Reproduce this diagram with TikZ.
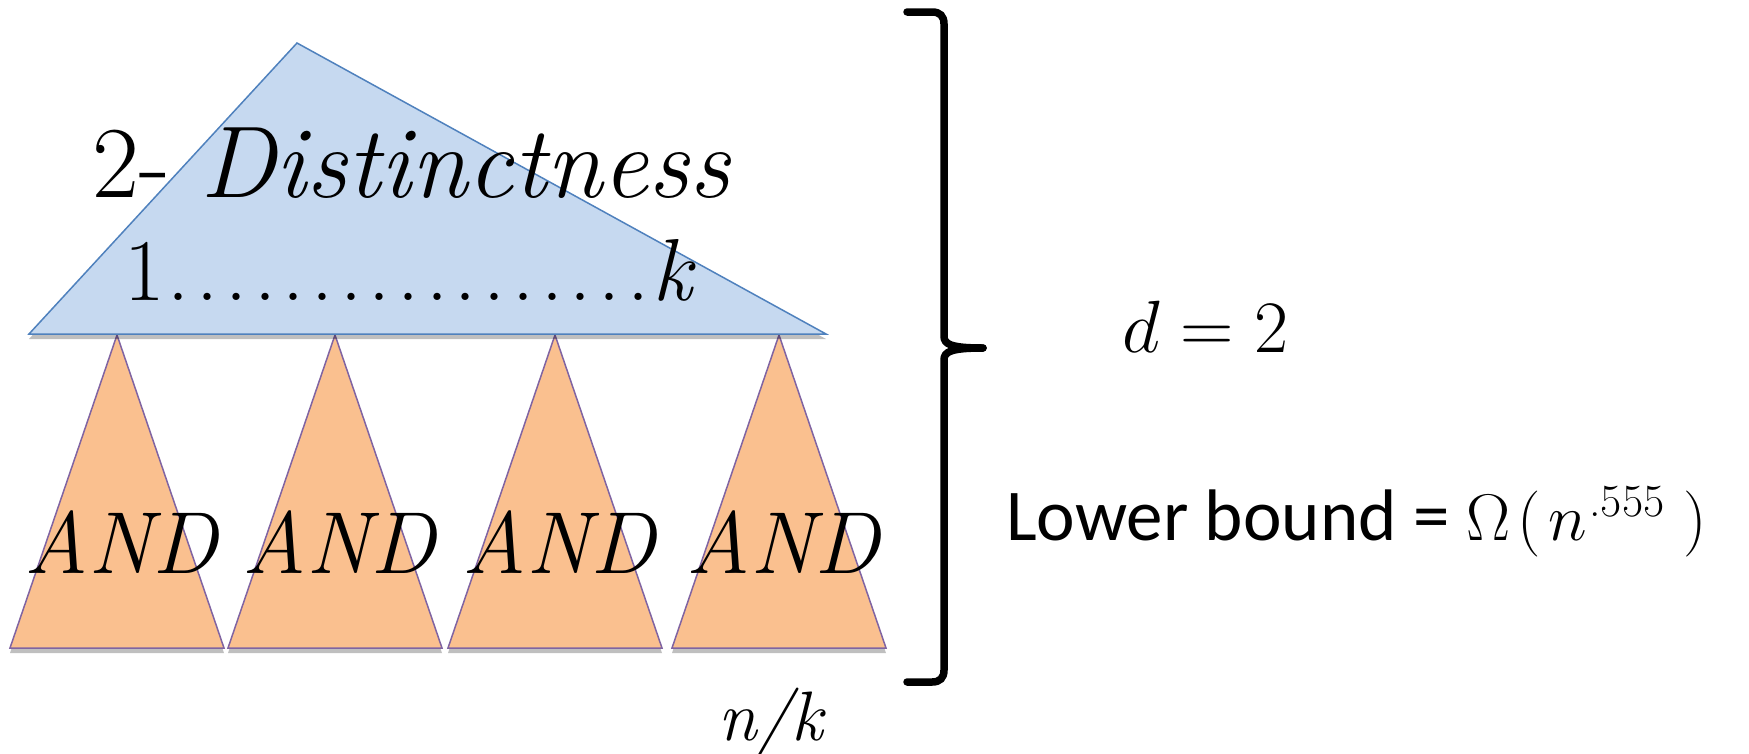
\RequirePackage{fix-cm}
\documentclass[tikz,border=0pt]{standalone}
\usepackage{fontspec}
\newfontfamily\calibri{Carlito}
\usetikzlibrary{shadows}

\definecolor{topblue}{RGB}{198,217,240}
\definecolor{topline}{RGB}{79,129,189}
\definecolor{andfill}{RGB}{250,192,143}
\definecolor{andline}{RGB}{128,100,162}

\tikzset{
  toptri/.style={fill=topblue, draw=topline, line width=1.5pt},
  andtri/.style={fill=andfill, draw=andline, line width=1.5pt},
  shade under/.style={drop shadow={shadow xshift=0pt, shadow yshift=-5pt, opacity=0.25, fill=black}},
  txt/.style={inner sep=0pt, anchor=base west},
}

\begin{document}
\begin{tikzpicture}[x=1pt, y=-1pt]
\useasboundingbox (0,0) rectangle (1749,753);
% ---------- bottom layer: the AND gadgets ----------
\foreach \i/\ax in {1/117, 2/335, 3/555, 4/779} {
  \draw[andtri, shade under] (\ax-107,648) -- (\ax,335) -- (\ax+107,648) -- cycle;
  \node[inner sep=0pt, anchor=base, font=\fontsize{88}{96}\selectfont\itshape] (and\i) at (\ax+4,573) {AND};
}
% ---------- top layer: 2-Distinctness on k inputs ----------
\draw[toptri, shade under] (29,334) -- (297,43) -- (826,334) -- cycle;
\node[txt, font=\fontsize{102}{110}\selectfont] (dist) at (92,197) {2- \textit{Distinctness}};
\node[txt, font=\fontsize{88}{96}\selectfont] (inputs) at (124,300)
  {1\hbox to 488pt{\xleaders\hbox to 28.7pt{\hss.\hss}\hfill}\textit{k}};
\node[txt, font=\fontsize{70}{76}\selectfont\itshape] (nk) at (718,740) {n/k};
% ---------- brace and the two results ----------
\draw[line width=7.5pt, line cap=round] (907,12) -- (932,12) .. controls (940,12) and (944,16) .. (944,24)
  -- (944,336) .. controls (944,344) and (950,348) .. (983,348);
\draw[line width=7.5pt, line cap=round] (907,682) -- (932,682) .. controls (940,682) and (944,678) .. (944,670)
  -- (944,360) .. controls (944,352) and (950,348) .. (983,348);
\node[txt, font=\fontsize{74}{80}\selectfont] (depth) at (1122,352) {$d = 2$};
\node[txt, font=\fontsize{73}{80}\selectfont] (bound) at (1006,540)
  {\calibri Lower bound = {\fontsize{66}{72}\selectfont$\Omega\mkern2mu\bigl(\mkern2mu n^{\mkern1mu\mbox{\normalfont\fontsize{46}{50}\selectfont .555}}\mkern5mu\bigr)$}};
\end{tikzpicture}
\end{document}
